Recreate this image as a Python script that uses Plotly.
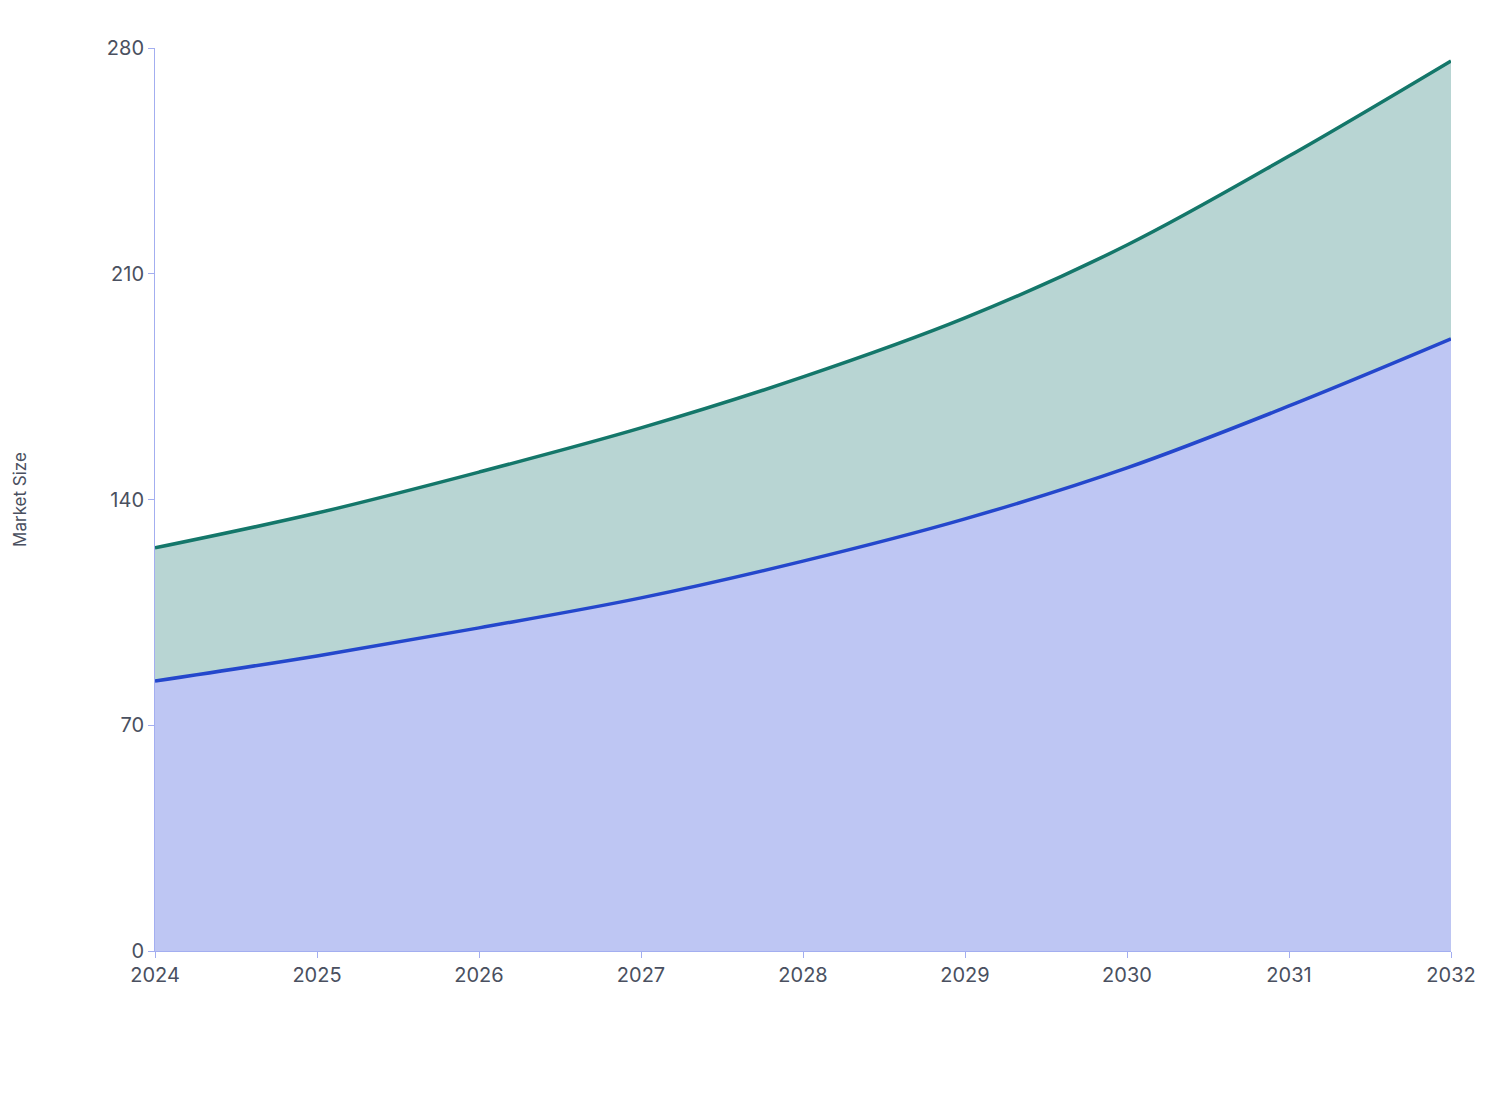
import plotly.graph_objects as go

years = [2024, 2025, 2026, 2027, 2028, 2029, 2030, 2031, 2032]
segment_a = [83.7, 91.5, 100.2, 109.5, 120.9, 134.0, 149.8, 169.0, 189.8]
segment_b = [41.3, 44.3, 48.3, 52.7, 57.1, 62.3, 69.1, 77.5, 86.2]

fig = go.Figure()
fig.add_trace(go.Scatter(x=years, y=segment_a, mode="lines", stackgroup="s", name="Segment A",
                         line=dict(color="#2447cc", width=3.5, shape="spline"),
                         fillcolor="rgba(190,198,243,1)"))
fig.add_trace(go.Scatter(x=years, y=segment_b, mode="lines", stackgroup="s", name="Segment B",
                         line=dict(color="#14776a", width=3.5, shape="spline"),
                         fillcolor="rgba(184,213,211,1)"))
axis_color = "#a3aef0"
fig.update_layout(
    width=1508, height=1120, plot_bgcolor="white", paper_bgcolor="white",
    margin=dict(l=136, r=65, t=40, b=177), showlegend=False,
    font=dict(family="Inter", size=20, color="#4a5060"),
    xaxis=dict(range=[2024, 2032], tickvals=years, showgrid=False, showline=True,
               linecolor=axis_color, ticks="outside", tickcolor=axis_color, ticklen=6, zeroline=False),
    yaxis=dict(range=[0, 280], tickvals=[0, 70, 140, 210, 280], showgrid=False, showline=True,
               linecolor=axis_color, ticks="outside", tickcolor=axis_color, ticklen=6, zeroline=False,
               title=dict(text="Market Size", font=dict(size=17), standoff=75)),
)
fig.write_html("out.html")
